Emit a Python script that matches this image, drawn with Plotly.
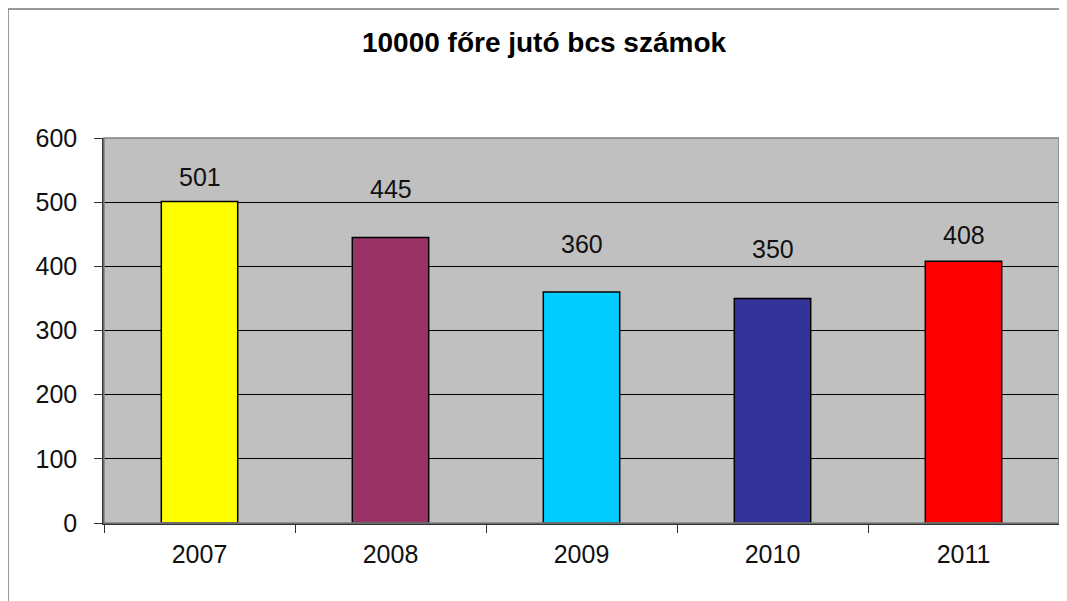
import plotly.graph_objects as go

years = ["2007", "2008", "2009", "2010", "2011"]
values = [501, 445, 360, 350, 408]
bar_colors = ["#FFFF00", "#993366", "#00CCFF", "#333399", "#FF0000"]
label_shift = [25, 48, 48, 49, 26]
y_ticks = [0, 100, 200, 300, 400, 500, 600]
title = "10000 főre jutó bcs számok"

W, H = 1067, 601
OFF = 8  # page body margin offset
# target plot area in screen pixels
SX0, SX1, SY0, SY1 = 104, 1059, 138, 523
L, T = SX0 - OFF, SY0 - OFF
R = W - (SX1 - OFF)
B = H - (SY1 - OFF)
pw, ph = W - L - R, H - T - B

def px_x(sx):
    return (sx - OFF - L) / pw

def px_y(sy):
    return (H - B - (sy - OFF)) / ph

xpos = list(range(len(years)))
boundaries = [i - 0.5 for i in range(len(years) + 1)]
FONT = "Liberation Sans, Arial"

fig = go.Figure()
fig.add_trace(go.Bar(
    x=xpos, y=values,
    marker=dict(color=bar_colors, line=dict(color="#000000", width=1.5)),
    width=0.4,
))

for xp, v, s in zip(xpos, values, label_shift):
    fig.add_annotation(x=xp, y=v, xref="x", yref="y", text=str(v), showarrow=False, yshift=s,
                       font=dict(family=FONT, size=25, color="#111"))

fig.update_layout(
    width=W, height=H,
    margin=dict(l=L, r=R, t=T, b=B),
    paper_bgcolor="white",
    plot_bgcolor="#C0C0C0",
    showlegend=False,
    title=dict(text=title, xref="container", x=(544 - OFF) / W, xanchor="center",
               yref="container", y=1 - (42 - OFF) / H, yanchor="middle",
               font=dict(family=FONT, size=28, color="#000", weight="bold")),
    font=dict(family=FONT, color="#111"),
)
fig.update_yaxes(range=[0, 600], tickvals=y_ticks, showgrid=True, gridcolor="#000000", gridwidth=1,
                 showline=True, linecolor="#333", linewidth=1.5, ticks="outside", ticklen=8,
                 tickcolor="#333", tickfont=dict(size=25), ticklabelstandoff=12, zeroline=False)
fig.update_xaxes(range=[-0.5, len(years) - 0.5], tickvals=xpos, ticktext=years, ticks="",
                 showline=True, linecolor="#333", linewidth=1.5, tickfont=dict(size=25),
                 ticklabelstandoff=8, showgrid=False, zeroline=False,
                 minor=dict(tickvals=boundaries, ticks="outside", ticklen=8, tickcolor="#333",
                            showgrid=False))

# plot-area border (top/right)
fig.add_shape(type="rect", xref="paper", yref="paper", x0=0, x1=1, y0=0, y1=1,
              line=dict(color="#808080", width=1.5), layer="above")
# outer frame
fig.add_shape(type="line", xref="paper", yref="paper", x0=px_x(8), x1=px_x(8), y0=px_y(9), y1=px_y(620),
              line=dict(color="#777", width=1.5))
fig.add_shape(type="line", xref="paper", yref="paper", x0=px_x(8), x1=px_x(1080), y0=px_y(9), y1=px_y(9),
              line=dict(color="#777", width=1.5))

fig.write_html("out.html")
